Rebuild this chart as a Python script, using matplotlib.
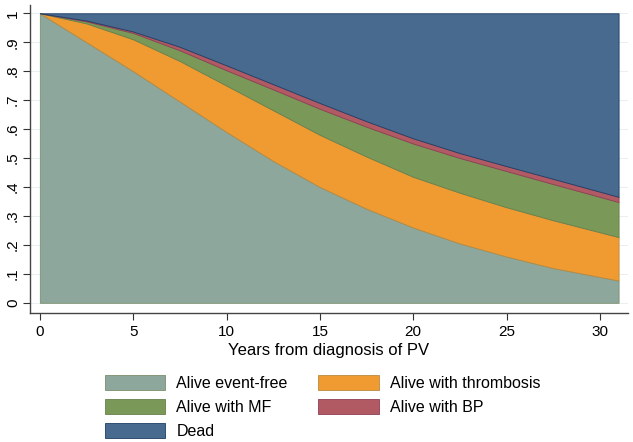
import numpy as np
import matplotlib
matplotlib.use("Agg")
import matplotlib.pyplot as plt
from matplotlib.patches import Patch

plt.rcParams['font.family'] = ['Liberation Sans', 'DejaVu Sans']

# -----------------------------
# Data (state probabilities)
# -----------------------------
years = [0, 2.5, 5, 7.5, 10, 12.5, 15, 17.5, 20, 22.5, 25, 27.5, 31]
event_free = [1.0, 0.90, 0.80, 0.695, 0.59, 0.49, 0.40, 0.325, 0.26, 0.205, 0.16, 0.12, 0.077]
thrombosis = [0.0, 0.065, 0.11, 0.14, 0.16, 0.175, 0.18, 0.18, 0.175, 0.175, 0.17, 0.165, 0.15]
with_mf = [0.0, 0.007, 0.022, 0.037, 0.053, 0.072, 0.09, 0.103, 0.115, 0.12, 0.125, 0.125, 0.121]
with_bp = [0.0, 0.003, 0.005, 0.012, 0.017, 0.018, 0.02, 0.019, 0.018, 0.017, 0.017, 0.018, 0.018]

labels = ["Alive event-free", "Alive with thrombosis", "Alive with MF", "Alive with BP", "Dead"]
colors = ["#8da79c", "#f09b32", "#7a9858", "#b25a63", "#486a8f"]
edges = ["#7d8f6c", "#b88a40", "#66804a", "#8e3d55", "#1f3d66"]

x = np.array(years)
dead = 1 - (np.array(event_free) + np.array(thrombosis) + np.array(with_mf) + np.array(with_bp))

fig = plt.figure(figsize=(6.33, 4.42), dpi=100)
ax = fig.add_axes([0.047, 0.292, 0.945, 0.697])

ax.set_axisbelow(True)
ax.grid(axis='y', color='#eaeff2', linewidth=0.8)

polys = ax.stackplot(x, event_free, thrombosis, with_mf, with_bp, dead,
                     colors=colors, zorder=2)
for p, ec in zip(polys, edges):
    p.set_edgecolor(ec)
    p.set_linewidth(0.6)

ax.set_xlim(-0.54, 31.5)
ax.set_ylim(-0.035, 1.029)
ax.set_xticks([0, 5, 10, 15, 20, 25, 30])
yt = np.arange(0, 1.01, 0.1)
ax.set_yticks(yt)
ax.set_yticklabels(["0"] + [".%d" % i for i in range(1, 10)] + ["1"],
                   rotation=90, va='center')
ax.tick_params(axis='both', colors='#333333', labelcolor='black', labelsize=11,
               length=5, width=0.8)
ax.tick_params(axis='y', pad=2)
for s in ["top", "right"]:
    ax.spines[s].set_visible(False)
for s in ["left", "bottom"]:
    ax.spines[s].set_color('#444444')
    ax.spines[s].set_linewidth(1.0)

ax.set_xlabel("Years from diagnosis of PV", fontsize=12, labelpad=3)

# Legend: column 1 = event-free, MF, dead ; column 2 = thrombosis, BP
order = [0, 2, 4, 1, 3]
handles = [Patch(facecolor=colors[i], edgecolor=edges[i], linewidth=0.6) for i in order]
fig.legend(handles, [labels[i] for i in order], ncol=2, frameon=False,
           loc='upper left', bbox_to_anchor=(0.155, 0.165), fontsize=11.5,
           handlelength=3.8, handleheight=1.05, handletextpad=0.7,
           columnspacing=1.9, labelspacing=0.5, borderaxespad=0)

fig.savefig("out.png", dpi=100)
